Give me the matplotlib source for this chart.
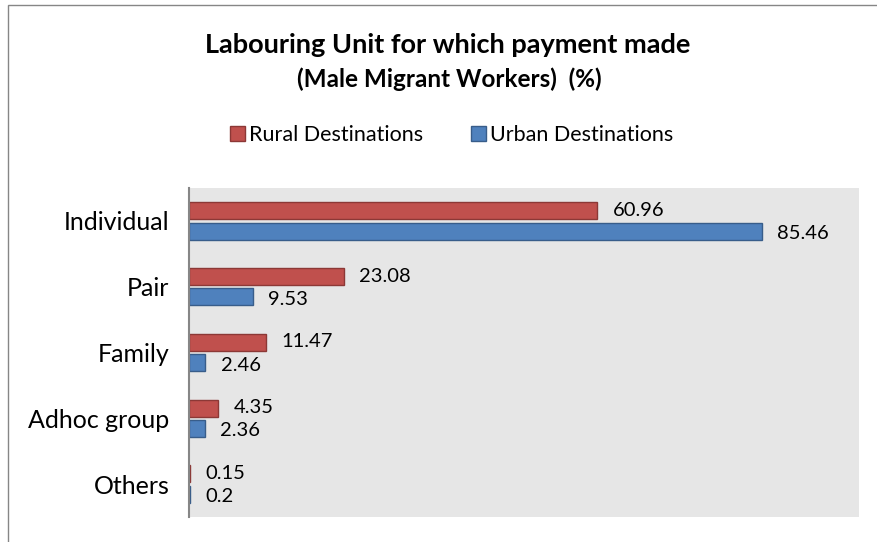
import matplotlib.pyplot as plt
import numpy as np
from matplotlib.patches import Rectangle

plt.rcParams['font.family'] = ['Lato', 'DejaVu Sans']

categories = ["Individual", "Pair", "Family", "Adhoc group", "Others"]
rural = [60.96, 23.08, 11.47, 4.35, 0.15]
urban = [85.46, 9.53, 2.46, 2.36, 0.2]
rural_labels = ["60.96", "23.08", "11.47", "4.35", "0.15"]
urban_labels = ["85.46", "9.53", "2.46", "2.36", "0.2"]

fig = plt.figure(figsize=(8.77, 5.42), dpi=100)
ax = fig.add_axes([189 / 877, 1 - 517 / 542, 670 / 877, 329 / 542])
ax.set_facecolor("#E6E6E6")

y = np.arange(len(categories))
h = 0.26
ax.barh(y - 0.155, rural, height=h, color="#C0504D", edgecolor="#8C3836", linewidth=1,
        label="Rural Destinations")
ax.barh(y + 0.155, urban, height=h, color="#4F81BD", edgecolor="#385D8A", linewidth=1,
        label="Urban Destinations")

for yi, v, t in zip(y, rural, rural_labels):
    ax.text(v + 2.3, yi - 0.16, t, va="center", ha="left", fontsize=14.5, color="black")
for yi, v, t in zip(y, urban, urban_labels):
    ax.text(v + 2.3, yi + 0.19, t, va="center", ha="left", fontsize=14.5, color="black")

ax.set_xlim(0, 100)
ax.set_ylim(len(categories) - 0.5, -0.5)
ax.set_yticks(y)
ax.set_yticklabels(categories, fontsize=18)
ax.tick_params(axis="y", length=0, pad=14)
ax.set_xticks([])
for s in ["top", "right", "bottom"]:
    ax.spines[s].set_visible(False)
ax.spines["left"].set_color("#868686")
ax.spines["left"].set_linewidth(1.5)

fig.text(0.51, 1 - 45 / 542, "Labouring Unit for which payment made", ha="center", va="center",
         fontsize=19.5, fontweight="bold")
fig.text(0.512, 1 - 79 / 542, "(Male Migrant Workers)  (%)", ha="center", va="center",
         fontsize=17.5, fontweight="bold")

fig.legend(loc="center", bbox_to_anchor=(0.515, 1 - 135 / 542), ncol=2, frameon=False,
           fontsize=15.5, handlelength=0.7, handleheight=0.7, handletextpad=0.2,
           columnspacing=2.2)

fig.patches.append(Rectangle((8 / 877, -0.01), 1.0, 1.0, transform=fig.transFigure,
                             fill=False, edgecolor="#868686", linewidth=1))

fig.savefig("out.png", dpi=100)
